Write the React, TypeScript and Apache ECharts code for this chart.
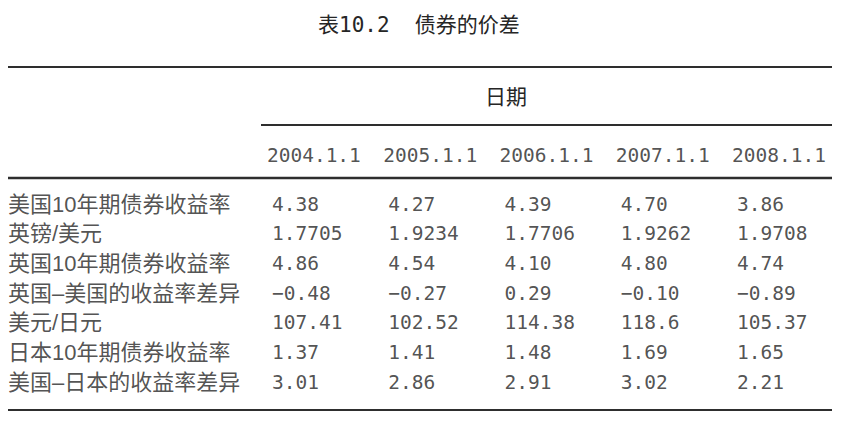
import React, { useEffect, useRef } from "react";
import * as echarts from "echarts";

// ---- data ----
const title = "表10.2  债券的价差";
const headerGroup = "日期";
const dates = ["2004.1.1", "2005.1.1", "2006.1.1", "2007.1.1", "2008.1.1"];
const rowLabels = [
  "美国10年期债券收益率",
  "英镑/美元",
  "英国10年期债券收益率",
  "英国–美国的收益率差异",
  "美元/日元",
  "日本10年期债券收益率",
  "美国–日本的收益率差异",
];
const usYield = ["4.38", "4.27", "4.39", "4.70", "3.86"];
const gbpUsd = ["1.7705", "1.9234", "1.7706", "1.9262", "1.9708"];
const ukYield = ["4.86", "4.54", "4.10", "4.80", "4.74"];
const ukUsSpread = ["−0.48", "−0.27", "0.29", "−0.10", "−0.89"];
const usdJpy = ["107.41", "102.52", "114.38", "118.6", "105.37"];
const jpYield = ["1.37", "1.41", "1.48", "1.69", "1.65"];
const usJpSpread = ["3.01", "2.86", "2.91", "3.02", "2.21"];
const rows = [usYield, gbpUsd, ukYield, ukUsSpread, usdJpy, jpYield, usJpSpread];

// ---- layout (axis units) ----
const labelColumn = -2.27;
const headerRow = -1.65;

const INK = "#262626";
const MONO = "'DejaVu Sans Mono', 'Liberation Mono', monospace";
const CJK = "'Liberation Sans', 'Noto Sans CJK SC', sans-serif";

export default function App() {
  const ref = useRef<HTMLDivElement>(null);
  useEffect(() => {
    document.body.style.margin = "0";
    const chart = echarts.init(ref.current!, null, { renderer: "svg" });

    const cellData: any[] = [];
    rows.forEach((row, r) => row.forEach((v, c) => cellData.push([c, r, v])));
    const labelData = rowLabels.map((t, r) => [labelColumn, r, t]);
    const dateData = dates.map((d, c) => [c, headerRow, d]);

    const hline = (x1: number, x2: number, y: number, w: number) => ({
      type: "line",
      shape: { x1, y1: y, x2, y2: y },
      style: { stroke: "#2e2e2e", lineWidth: w },
      silent: true,
    });

    chart.setOption({
      animation: false,
      backgroundColor: "#ffffff",
      grid: { left: 8, width: 729, top: 144.67, height: 237.33 },
      xAxis: { type: "value", min: labelColumn, max: 4, show: false },
      yAxis: { type: "value", min: -2, max: 6, inverse: true, show: false },
      graphic: [
        {
          type: "text",
          x: 318,
          y: 25,
          style: {
            text: title,
            font: "21px 'DejaVu Sans Mono', 'Noto Sans CJK SC'",
            fill: INK,
            verticalAlign: "middle",
          },
        },
        {
          type: "text",
          x: 506,
          y: 95,
          style: {
            text: headerGroup,
            font: "21px 'Noto Sans CJK SC'",
            fill: INK,
            align: "center",
            verticalAlign: "middle",
          },
        },
        hline(8, 832, 67, 2),
        hline(261, 832, 125, 2),
        hline(8, 832, 178, 2.4),
        hline(8, 832, 410, 2),
      ],
      series: [
        {
          type: "scatter",
          symbolSize: 0,
          clip: false,
          silent: true,
          data: cellData,
          label: {
            show: true,
            position: "right",
            distance: 0,
            formatter: (p: any) => p.value[2],
            fontFamily: MONO,
            fontSize: 19.5,
            color: INK,
          },
        },
        {
          type: "scatter",
          symbolSize: 0,
          clip: false,
          silent: true,
          data: dateData,
          label: {
            show: true,
            position: "right",
            distance: 0,
            offset: [-5, 0],
            formatter: (p: any) => p.value[2],
            fontFamily: MONO,
            fontSize: 19.5,
            color: INK,
          },
        },
        {
          type: "scatter",
          symbolSize: 0,
          clip: false,
          silent: true,
          data: labelData,
          label: {
            show: true,
            position: "right",
            distance: 0,
            formatter: (p: any) => p.value[2],
            fontFamily: CJK,
            fontSize: 22,
            color: INK,
          },
        },
      ],
    });
    return () => chart.dispose();
  }, []);
  return <div ref={ref} style={{ width: 849, height: 432 }} />;
}
